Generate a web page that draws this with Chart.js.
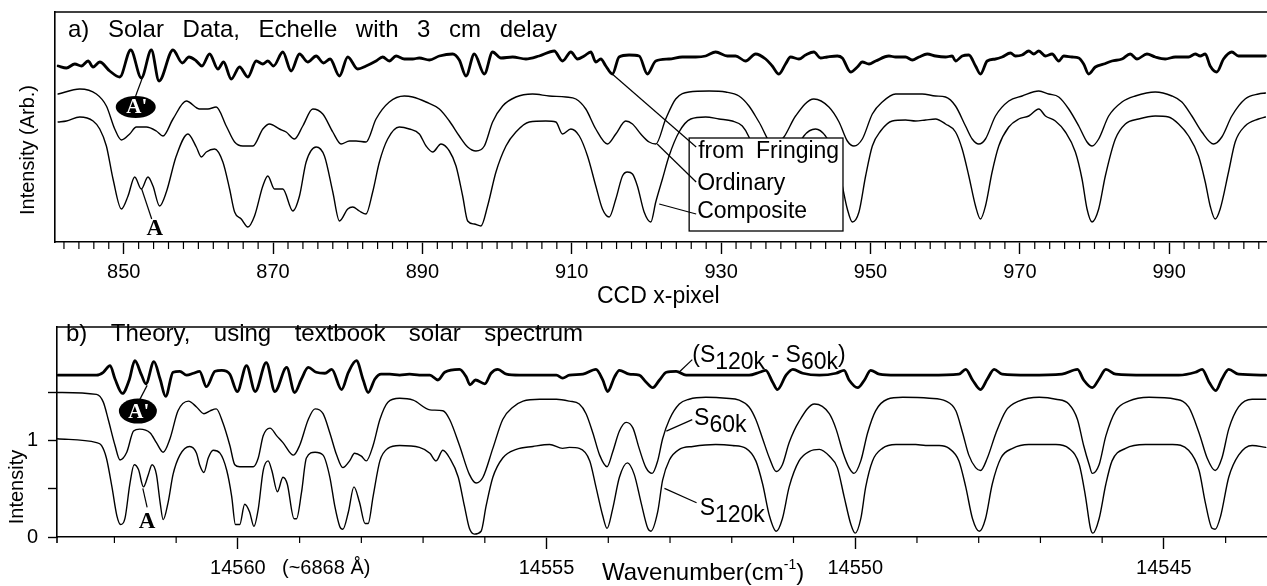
<!DOCTYPE html>
<html>
<head>
<meta charset="utf-8">
<script src="https://cdn.jsdelivr.net/npm/chart.js@4.4.0/dist/chart.umd.min.js"></script>
<style>
  body { margin: 0; background: #fff; }
  canvas { position: absolute; left: 0; }
  #chartA { top: 0; }
  #chartB { top: 305px; }
</style>
</head>
<body>
<canvas id="chartA" width="1267" height="310"></canvas>
<canvas id="chartB" width="1267" height="281"></canvas>
<script>
// ---- panel a: solar data, x = CCD pixel, y = arbitrary intensity ----
const fringingA = [[841.22,1.76],[842.33,1.74],[843.45,1.78],[844.34,1.76],[845.23,1.81],[845.90,1.75],[846.79,1.80],[848.13,1.71],[849.47,1.65],[850.94,1.92],[852.36,1.64],[853.70,1.92],[854.73,1.61],[856.60,1.92],[857.85,1.79],[858.74,1.85],[859.72,1.81],[860.48,1.76],[861.50,1.88],[862.62,1.73],[863.37,1.80],[864.40,1.63],[865.51,1.75],[866.63,1.65],[867.74,1.81],[868.63,1.78],[869.30,1.81],[870.06,1.76],[871.31,1.90],[872.42,1.71],[873.54,1.88],[874.65,1.80],[875.77,1.86],[876.75,1.79],[877.64,1.83],[878.89,1.66],[880.00,1.85],[881.34,1.73],[882.45,1.76],[883.79,1.81],[884.68,1.85],[885.57,1.81],[886.47,1.86],[887.58,1.83],[888.70,1.83],[889.59,1.84],[890.93,1.82],[892.27,1.86],[894.05,1.88],[894.94,1.82],[895.84,1.66],[896.95,1.88],[898.29,1.68],[899.40,1.90],[900.52,1.84],[902.08,1.85],[903.86,1.83],[905.64,1.86],[907.65,1.91],[908.76,1.81],[909.88,1.90],[910.77,1.83],[911.66,1.86],[912.55,1.90],[913.22,1.80],[913.89,1.83],[914.56,1.76],[915.45,1.68],[916.34,1.85],[917.68,1.87],[919.02,1.86],[920.13,1.68],[921.25,1.81],[923.03,1.83],[924.81,1.85],[926.60,1.85],[927.93,1.86],[929.27,1.90],[930.83,1.86],[931.94,1.86],[933.28,1.81],[934.62,1.88],[935.96,1.83],[936.85,1.76],[937.74,1.68],[938.63,1.78],[939.30,1.85],[940.42,1.83],[941.31,1.87],[942.42,1.90],[943.31,1.84],[944.21,1.85],[945.56,1.86],[946.23,1.84],[947.35,1.70],[948.24,1.75],[948.91,1.80],[949.80,1.78],[950.69,1.81],[952.47,1.86],[953.37,1.85],[954.70,1.85],[955.60,1.82],[956.49,1.85],[957.60,1.88],[958.72,1.86],[960.05,1.85],[960.94,1.86],[961.39,1.81],[962.28,1.86],[963.17,1.87],[964.07,1.76],[964.73,1.68],[965.63,1.81],[966.74,1.83],[967.63,1.85],[968.75,1.89],[969.41,1.86],[970.31,1.87],[971.20,1.91],[971.87,1.88],[972.54,1.91],[973.43,1.86],[974.32,1.88],[975.21,1.81],[975.88,1.86],[977.00,1.85],[977.89,1.84],[978.55,1.78],[979.22,1.68],[980.11,1.75],[981.23,1.78],[982.34,1.81],[983.68,1.83],[984.79,1.88],[985.69,1.83],[987.02,1.88],[988.14,1.85],[989.47,1.83],[990.81,1.85],[992.60,1.85],[993.49,1.88],[994.16,1.86],[994.83,1.88],[995.49,1.76],[996.38,1.70],[997.28,1.83],[998.39,1.90],[999.28,1.86],[1000.62,1.86],[1001.96,1.86],[1002.89,1.86]];

const ordinaryA = [[841.22,1.48],[844.12,1.53],[846.34,1.48],[847.68,1.36],[848.80,1.13],[849.69,1.02],[850.80,1.08],[851.69,1.15],[853.03,1.15],[854.37,1.11],[855.26,1.06],[856.60,1.23],[858.38,1.41],[860.16,1.33],[861.28,1.33],[862.39,1.35],[863.73,1.16],[864.85,1.00],[865.96,0.96],[867.30,0.96],[868.63,1.13],[869.53,1.18],[870.86,1.13],[871.75,1.10],[872.87,1.03],[873.98,1.16],[875.32,1.33],[876.66,1.28],[878.00,1.10],[879.11,0.98],[880.23,1.01],[881.12,1.01],[882.45,1.00],[883.79,1.23],[885.57,1.40],[887.58,1.46],[888.70,1.45],[890.49,1.40],[892.27,1.33],[893.61,1.21],[894.94,1.06],[896.06,0.95],[897.17,0.91],[898.29,0.96],[899.40,1.20],[900.74,1.36],[902.52,1.45],[904.75,1.48],[906.98,1.46],[909.21,1.45],[910.55,1.43],[911.88,1.33],[913.22,1.13],[914.78,0.98],[915.90,1.08],[917.23,1.21],[918.13,1.18],[919.24,1.08],[920.36,1.00],[921.25,0.98],[922.58,1.23],[923.92,1.43],[925.70,1.50],[928.38,1.51],[930.61,1.50],[932.39,1.46],[933.73,1.36],[935.07,1.20],[937.07,0.96],[938.41,1.05],[939.97,1.26],[942.42,1.43],[944.43,1.35],[945.79,1.20],[946.90,1.01],[947.79,0.96],[948.91,1.03],[950.25,1.28],[951.58,1.40],[953.37,1.48],[955.15,1.48],[956.93,1.48],[958.72,1.46],[960.05,1.45],[961.39,1.36],[962.73,1.16],[963.62,1.03],[964.51,0.98],[965.40,1.03],[966.74,1.26],[968.52,1.41],[970.31,1.46],[972.54,1.51],[973.87,1.48],[975.21,1.45],[976.55,1.33],[977.89,1.16],[979.00,1.00],[979.67,0.96],[980.56,1.03],[981.90,1.26],[983.68,1.40],[985.46,1.46],[988.14,1.50],[990.37,1.46],[991.70,1.40],[993.04,1.26],[994.38,1.10],[995.94,0.98],[997.05,1.05],[998.39,1.26],[1000.17,1.43],[1001.96,1.48],[1002.89,1.49]];

const compositeA = [[841.22,1.20],[842.33,1.21],[844.12,1.25],[845.90,1.21],[846.79,1.13],[847.68,0.96],[848.57,0.63],[849.69,0.33],[850.58,0.46],[851.47,0.65],[852.36,0.53],[853.25,0.65],[853.92,0.56],[854.81,0.36],[855.71,0.50],[857.04,0.86],[858.60,1.08],[859.72,0.95],[860.39,0.85],[861.06,0.90],[862.17,0.93],[863.28,0.80],[864.18,0.53],[864.85,0.30],[865.74,0.23],[866.63,0.15],[867.52,0.26],[868.63,0.56],[869.30,0.66],[870.19,0.53],[871.31,0.53],[872.65,0.31],[873.54,0.46],[874.43,0.80],[875.77,0.95],[876.88,0.86],[878.00,0.50],[878.89,0.21],[880.00,0.33],[880.67,0.35],[881.56,0.31],[882.45,0.28],[883.34,0.50],[884.24,0.80],[885.35,1.03],[886.91,1.15],[888.25,1.13],[889.59,1.08],[890.49,0.96],[891.38,0.90],[892.49,0.98],[893.61,0.91],[894.50,0.76],[895.39,0.46],[896.06,0.21],[896.95,0.18],[897.84,0.16],[898.73,0.36],[899.85,0.70],[901.19,0.96],[902.52,1.10],[904.31,1.20],[906.53,1.21],[907.87,1.20],[908.76,1.08],[909.88,1.13],[911.01,1.06],[912.11,0.86],[913.22,0.56],[914.11,0.33],[915.01,0.25],[915.90,0.43],[916.79,0.66],[917.46,0.70],[918.13,0.68],[918.79,0.56],[919.69,0.30],[920.58,0.20],[921.25,0.40],[922.14,0.63],[923.03,0.86],[924.37,1.10],[925.93,1.23],[927.93,1.25],[929.72,1.23],[931.50,1.21],[932.84,1.16],[933.73,1.05],[935.07,0.76],[936.40,0.30],[937.29,0.21],[938.41,0.43],[939.75,0.86],[941.08,1.06],[942.65,1.13],[943.98,1.06],[945.34,0.86],[946.23,0.56],[946.90,0.33],[947.57,0.20],[948.46,0.30],[949.35,0.66],[950.25,0.96],[951.36,1.11],[952.92,1.21],[954.70,1.22],[956.04,1.21],[957.38,1.22],[958.72,1.23],[960.05,1.18],[961.39,1.10],[962.28,0.93],[963.17,0.66],[964.07,0.36],[964.73,0.23],[965.40,0.36],[966.29,0.70],[967.18,0.96],[968.52,1.15],[969.86,1.23],[971.20,1.26],[972.54,1.33],[973.43,1.26],[974.76,1.21],[976.10,1.10],[977.44,0.90],[978.33,0.63],[979.00,0.33],[979.67,0.20],[980.56,0.33],[981.45,0.66],[982.79,1.03],[984.13,1.18],[985.91,1.23],[988.14,1.26],[989.92,1.25],[991.26,1.18],[992.60,1.06],[993.93,0.86],[994.83,0.60],[995.49,0.36],[996.16,0.23],[996.83,0.33],[997.95,0.70],[998.84,1.00],[1000.17,1.16],[1001.96,1.23],[1002.89,1.25]];

// ---- panel b: theory, x = wavenumber (cm-1), y = intensity ----
const diffB = [[14562.91,1.68],[14562.29,1.68],[14562.18,1.71],[14562.07,1.78],[14561.99,1.64],[14561.87,1.49],[14561.76,1.63],[14561.67,1.83],[14561.56,1.68],[14561.49,1.59],[14561.36,1.82],[14561.26,1.64],[14561.17,1.46],[14561.05,1.71],[14560.94,1.72],[14560.83,1.68],[14560.72,1.70],[14560.62,1.72],[14560.51,1.56],[14560.37,1.72],[14560.26,1.73],[14560.13,1.69],[14560.01,1.51],[14559.86,1.78],[14559.72,1.51],[14559.54,1.81],[14559.40,1.51],[14559.21,1.76],[14559.08,1.50],[14558.97,1.64],[14558.86,1.76],[14558.73,1.71],[14558.59,1.70],[14558.48,1.74],[14558.32,1.53],[14558.21,1.71],[14558.08,1.83],[14557.97,1.63],[14557.89,1.50],[14557.78,1.64],[14557.68,1.69],[14557.54,1.69],[14557.38,1.68],[14557.22,1.69],[14557.06,1.68],[14556.89,1.68],[14556.76,1.63],[14556.65,1.71],[14556.41,1.74],[14556.30,1.66],[14556.24,1.58],[14556.15,1.63],[14556.00,1.59],[14555.90,1.70],[14555.79,1.74],[14555.65,1.69],[14555.44,1.68],[14555.11,1.68],[14554.84,1.68],[14554.74,1.65],[14554.63,1.68],[14554.41,1.69],[14554.20,1.74],[14554.09,1.63],[14554.01,1.51],[14553.90,1.66],[14553.82,1.73],[14553.66,1.69],[14553.50,1.68],[14553.39,1.61],[14553.28,1.55],[14553.17,1.63],[14553.06,1.71],[14552.90,1.72],[14552.74,1.68],[14552.25,1.68],[14551.72,1.68],[14551.55,1.71],[14551.45,1.73],[14551.34,1.61],[14551.26,1.53],[14551.12,1.68],[14551.01,1.74],[14550.85,1.70],[14550.58,1.68],[14550.31,1.70],[14550.18,1.73],[14550.10,1.63],[14549.96,1.55],[14549.85,1.63],[14549.75,1.73],[14549.61,1.69],[14549.34,1.68],[14548.80,1.68],[14548.32,1.69],[14548.21,1.74],[14548.10,1.63],[14547.97,1.53],[14547.86,1.64],[14547.75,1.74],[14547.62,1.69],[14547.19,1.68],[14546.65,1.69],[14546.40,1.74],[14546.30,1.63],[14546.16,1.55],[14546.05,1.64],[14545.94,1.74],[14545.78,1.69],[14545.30,1.68],[14544.76,1.68],[14544.49,1.71],[14544.38,1.74],[14544.27,1.61],[14544.16,1.52],[14544.06,1.64],[14543.95,1.74],[14543.79,1.69],[14543.35,1.68]];

const s60kB = [[14562.93,1.50],[14562.29,1.48],[14562.18,1.40],[14562.10,1.22],[14561.99,0.95],[14561.91,0.80],[14561.80,0.88],[14561.69,1.10],[14561.59,1.12],[14561.42,1.08],[14561.32,0.98],[14561.21,0.88],[14561.10,1.02],[14560.97,1.31],[14560.80,1.41],[14560.67,1.35],[14560.55,1.28],[14560.45,1.31],[14560.35,1.33],[14560.24,1.18],[14560.13,0.95],[14560.05,0.75],[14559.97,0.73],[14559.75,0.73],[14559.67,0.82],[14559.59,1.05],[14559.48,1.13],[14559.37,1.05],[14559.27,0.98],[14559.10,0.85],[14559.00,0.95],[14558.86,1.22],[14558.75,1.33],[14558.62,1.28],[14558.51,1.08],[14558.40,0.85],[14558.30,0.72],[14558.19,0.79],[14558.11,0.87],[14558.00,0.84],[14557.92,0.79],[14557.81,0.95],[14557.70,1.22],[14557.57,1.40],[14557.38,1.44],[14557.16,1.42],[14556.89,1.32],[14556.68,1.31],[14556.57,1.22],[14556.41,0.95],[14556.25,0.65],[14556.14,0.56],[14556.03,0.62],[14555.87,0.92],[14555.71,1.22],[14555.54,1.35],[14555.38,1.41],[14555.11,1.43],[14554.84,1.43],[14554.63,1.41],[14554.47,1.38],[14554.36,1.28],[14554.25,1.08],[14554.14,0.85],[14554.02,0.73],[14553.93,0.88],[14553.82,1.10],[14553.71,1.19],[14553.60,1.13],[14553.50,0.92],[14553.39,0.72],[14553.29,0.66],[14553.20,0.79],[14553.12,1.02],[14553.01,1.22],[14552.85,1.38],[14552.69,1.43],[14552.42,1.45],[14552.09,1.44],[14551.88,1.42],[14551.72,1.35],[14551.61,1.22],[14551.50,1.02],[14551.39,0.82],[14551.28,0.68],[14551.18,0.75],[14551.07,0.98],[14550.91,1.20],[14550.66,1.38],[14550.42,1.28],[14550.31,1.12],[14550.20,0.88],[14550.10,0.72],[14550.02,0.66],[14549.91,0.79],[14549.80,1.08],[14549.67,1.31],[14549.48,1.43],[14549.23,1.45],[14548.80,1.44],[14548.53,1.41],[14548.37,1.31],[14548.26,1.08],[14548.16,0.85],[14548.05,0.72],[14547.97,0.69],[14547.86,0.82],[14547.72,1.08],[14547.56,1.31],[14547.35,1.41],[14547.02,1.45],[14546.75,1.43],[14546.54,1.38],[14546.40,1.22],[14546.30,0.95],[14546.21,0.75],[14546.16,0.66],[14546.05,0.75],[14545.94,1.05],[14545.78,1.31],[14545.57,1.41],[14545.24,1.45],[14544.81,1.43],[14544.60,1.35],[14544.43,1.08],[14544.30,0.82],[14544.17,0.69],[14544.06,0.82],[14543.95,1.12],[14543.79,1.35],[14543.57,1.43],[14543.35,1.43]];

const s120kB = [[14562.93,1.02],[14562.29,0.98],[14562.21,0.95],[14562.13,0.82],[14562.04,0.52],[14561.96,0.22],[14561.90,0.13],[14561.83,0.19],[14561.75,0.55],[14561.68,0.75],[14561.61,0.70],[14561.53,0.52],[14561.45,0.65],[14561.39,0.75],[14561.32,0.65],[14561.26,0.36],[14561.21,0.18],[14561.13,0.36],[14561.05,0.65],[14560.94,0.85],[14560.78,0.94],[14560.67,0.87],[14560.62,0.75],[14560.55,0.67],[14560.48,0.82],[14560.40,0.90],[14560.29,0.87],[14560.18,0.69],[14560.10,0.42],[14560.04,0.13],[14559.97,0.13],[14559.89,0.34],[14559.81,0.26],[14559.74,0.11],[14559.67,0.29],[14559.59,0.69],[14559.51,0.79],[14559.45,0.69],[14559.36,0.47],[14559.27,0.62],[14559.20,0.55],[14559.09,0.19],[14559.05,0.19],[14558.97,0.46],[14558.89,0.82],[14558.75,0.88],[14558.62,0.85],[14558.51,0.62],[14558.43,0.32],[14558.35,0.11],[14558.30,0.08],[14558.21,0.26],[14558.12,0.52],[14558.03,0.36],[14557.94,0.14],[14557.89,0.14],[14557.81,0.42],[14557.70,0.79],[14557.57,0.92],[14557.38,0.95],[14557.06,0.93],[14556.89,0.87],[14556.79,0.79],[14556.68,0.90],[14556.57,0.82],[14556.43,0.62],[14556.33,0.32],[14556.25,0.09],[14556.17,0.03],[14556.06,0.06],[14555.98,0.32],[14555.87,0.62],[14555.71,0.82],[14555.49,0.91],[14555.22,0.94],[14554.95,0.96],[14554.74,0.92],[14554.63,0.93],[14554.47,0.92],[14554.30,0.79],[14554.20,0.52],[14554.09,0.22],[14554.02,0.09],[14553.93,0.29],[14553.82,0.62],[14553.69,0.77],[14553.58,0.65],[14553.47,0.36],[14553.36,0.09],[14553.31,0.06],[14553.20,0.26],[14553.12,0.59],[14553.01,0.80],[14552.85,0.91],[14552.63,0.94],[14552.26,0.96],[14551.99,0.95],[14551.77,0.92],[14551.61,0.79],[14551.50,0.55],[14551.39,0.22],[14551.28,0.06],[14551.18,0.19],[14551.07,0.52],[14550.91,0.79],[14550.74,0.89],[14550.58,0.91],[14550.42,0.84],[14550.29,0.72],[14550.18,0.42],[14550.07,0.13],[14550.00,0.04],[14549.91,0.19],[14549.83,0.52],[14549.72,0.79],[14549.56,0.92],[14549.34,0.96],[14549.02,0.96],[14548.86,0.95],[14548.64,0.95],[14548.48,0.92],[14548.32,0.79],[14548.21,0.52],[14548.10,0.19],[14547.99,0.06],[14547.89,0.19],[14547.78,0.55],[14547.64,0.82],[14547.45,0.92],[14547.19,0.96],[14546.75,0.96],[14546.54,0.92],[14546.37,0.75],[14546.27,0.42],[14546.19,0.09],[14546.15,0.04],[14546.05,0.19],[14545.94,0.55],[14545.84,0.79],[14545.62,0.92],[14545.30,0.96],[14544.86,0.96],[14544.60,0.90],[14544.43,0.69],[14544.33,0.36],[14544.22,0.09],[14544.17,0.08],[14544.08,0.22],[14543.95,0.62],[14543.79,0.85],[14543.57,0.95],[14543.35,0.93]];

// tick labels
const ccdTickLabels = [850, 870, 890, 910, 930, 950, 970, 990];
const wnTickLabels = [14560, 14555, 14550, 14545];
const intensityTicks = [0, 0.5, 1, 1.5];
const intensityLabels = ['0', '', '1', ''];

const FONT = '"Liberation Sans", Arial, Helvetica, sans-serif';
const SERIF = '"Liberation Serif", "Times New Roman", serif';

const toXY = arr => arr.map(([x, y]) => ({ x, y }));

function drawText(ctx, str, x, y, size, o = {}) {
  ctx.save();
  ctx.font = (o.bold ? 'bold ' : '') + size + 'px ' + (o.family || FONT);
  ctx.fillStyle = o.color || '#000';
  ctx.textBaseline = 'middle';
  ctx.textAlign = o.align || 'left';
  ctx.translate(x, y);
  if (o.rotate) ctx.rotate(o.rotate);
  ctx.scale(o.sx || 1, 1);
  ctx.fillText(str, 0, 0);
  const w = ctx.measureText(str).width * (o.sx || 1);
  ctx.restore();
  return w;
}

// spread words evenly between x0 and x1 (wide word spacing of the original)
function drawSpread(ctx, words, x0, x1, y, size) {
  ctx.save();
  ctx.font = size + 'px ' + FONT;
  const widths = words.map(w => ctx.measureText(w).width);
  ctx.restore();
  const total = widths.reduce((a, b) => a + b, 0);
  const gap = (x1 - x0 - total) / (words.length - 1);
  let x = x0;
  words.forEach((w, i) => { drawText(ctx, w, x, y, size); x += widths[i] + gap; });
}

// text runs with sub/superscripts: [text, dy, size]
function drawRuns(ctx, runs, x, y, size) {
  runs.forEach(([t, dy, s]) => { x += drawText(ctx, t, x, y + (dy || 0), s || size); });
}

function seg(ctx, x1, y1, x2, y2, w) {
  ctx.save();
  ctx.strokeStyle = '#000';
  ctx.lineWidth = w || 1.2;
  ctx.beginPath();
  ctx.moveTo(x1, y1);
  ctx.lineTo(x2, y2);
  ctx.stroke();
  ctx.restore();
}

function badge(ctx, cx, cy, rx, ry) {
  ctx.save();
  ctx.fillStyle = '#000';
  ctx.beginPath();
  ctx.ellipse(cx, cy, rx, ry, 0, 0, Math.PI * 2);
  ctx.fill();
  ctx.restore();
  drawText(ctx, "A'", cx + 1, cy + 1, 21, { family: SERIF, bold: true, color: '#fff', align: 'center' });
}

const decorA = {
  id: 'decorA',
  afterDatasetsDraw(chart) {
    const { ctx, chartArea: a, scales: { x, y } } = chart;
    const px = v => x.getPixelForValue(v), py = v => y.getPixelForValue(v);
    // frame top
    seg(ctx, a.left, a.top, a.right, a.top, 1.6);
    // minor ticks every 2 px
    for (let v = 842; v <= 1002; v += 2) {
      if (!ccdTickLabels.includes(v)) seg(ctx, px(v), a.bottom, px(v), a.bottom + 7, 1.2);
    }
    drawSpread(ctx, ['a)', 'Solar', 'Data,', 'Echelle', 'with', '3', 'cm', 'delay'], 68, 557, 30, 24);
    drawText(ctx, 'Intensity (Arb.)', 28, 150, 20, { rotate: -Math.PI / 2, align: 'center' });
    drawText(ctx, 'CCD x-pixel', 597, 297, 23);

    // legend box (opaque)
    const bx0 = px(925.72), bx1 = px(946.32), by0 = py(1.04), by1 = py(0.11);
    ctx.save();
    ctx.fillStyle = '#fff';
    ctx.fillRect(bx0, by0, bx1 - bx0, by1 - by0);
    ctx.strokeStyle = '#000';
    ctx.lineWidth = 1.3;
    ctx.strokeRect(bx0, by0, bx1 - bx0, by1 - by0);
    ctx.restore();
    drawSpread(ctx, ['from', 'Fringing'], bx0 + 9, bx0 + 150, py(0.90), 23);
    drawText(ctx, 'Ordinary', bx0 + 8, py(0.58), 23);
    drawText(ctx, 'Composite', bx0 + 8, py(0.30), 23);
    seg(ctx, px(915.42), py(1.68), px(926.66), py(0.95));
    seg(ctx, px(921.44), py(0.98), px(926.66), py(0.60));
    seg(ctx, px(921.71), py(0.38), px(926.66), py(0.28));

    // A' and A markers
    seg(ctx, px(851.6), py(1.46), px(852.54), py(1.65));
    badge(ctx, px(851.61), py(1.35), 20, 11);
    seg(ctx, px(852.41), py(0.53), px(853.75), py(0.23));
    drawText(ctx, 'A', px(854.15), py(0.13), 23, { family: SERIF, bold: true, align: 'center' });
  }
};

const decorB = {
  id: 'decorB',
  afterDatasetsDraw(chart) {
    const { ctx, chartArea: a, scales: { x, y } } = chart;
    const px = v => x.getPixelForValue(v), py = v => y.getPixelForValue(v);
    seg(ctx, a.left, a.top, a.right, a.top, 1.6);
    seg(ctx, a.left, a.bottom, a.left, a.bottom + 6, 1.6);
    for (let v = 14544; v <= 14562; v += 1) {
      if (!wnTickLabels.includes(v)) seg(ctx, px(v), a.bottom, px(v), a.bottom + 6, 1.2);
    }
    drawSpread(ctx, ['b)', 'Theory,', 'using', 'textbook', 'solar', 'spectrum'], 66, 583, 29, 24);
    drawText(ctx, 'Intensity', 17, 182, 20, { rotate: -Math.PI / 2, align: 'center' });
    drawText(ctx, '(~6868 \u00c5)', 282, 263, 20);
    drawRuns(ctx, [['Wavenumber(cm', 0], ['-1', -8, 14], [')', 0]], 602, 268, 24);

    // curve labels
    drawRuns(ctx, [['(', 0], ['S', 0], ['120k', 7], [' - ', 0], ['S', 0], ['60k', 7], [')', 0]], px(14552.64), py(1.88), 23);
    drawRuns(ctx, [['S', 0], ['60k', 7]], px(14552.61), py(1.228), 23);
    drawRuns(ctx, [['S', 0], ['120k', 7]], px(14552.52), py(0.297), 23);
    seg(ctx, px(14552.85), py(1.713), px(14552.64), py(1.842));
    seg(ctx, px(14553.06), py(1.099), px(14552.64), py(1.218));
    seg(ctx, px(14553.09), py(0.505), px(14552.57), py(0.356));

    seg(ctx, px(14561.59), py(1.426), px(14561.47), py(1.574));
    badge(ctx, px(14561.62), py(1.307), 19, 12.5);
    seg(ctx, px(14561.54), py(0.505), px(14561.47), py(0.307));
    drawText(ctx, 'A', px(14561.47), py(0.158), 23, { family: SERIF, bold: true, align: 'center' });
  }
};

const lineDefaults = {
  point: { radius: 0 },
  line: { borderColor: '#000', cubicInterpolationMode: 'monotone', borderJoinStyle: 'round', borderCapStyle: 'round', fill: false }
};

const plainNumber = v => String(v);

const chartA = new Chart(document.getElementById('chartA'), {
  type: 'line',
  data: {
    datasets: [
      { label: 'from Fringing', data: toXY(fringingA), borderWidth: 2.8 },
      { label: 'Ordinary', data: toXY(ordinaryA), borderWidth: 1.4 },
      { label: 'Composite', data: toXY(compositeA), borderWidth: 1.4 }
    ]
  },
  options: {
    responsive: false,
    animation: false,
    devicePixelRatio: 1,
    layout: { padding: { top: 12, left: 0, right: 0, bottom: 0 } },
    elements: lineDefaults,
    plugins: { legend: { display: false }, tooltip: { enabled: false } },
    scales: {
      x: {
        type: 'linear',
        min: 840.8,
        max: 1003.1,
        afterBuildTicks: s => { s.ticks = ccdTickLabels.map(v => ({ value: v })); },
        afterFit: s => { s.height = 68; },
        grid: { drawOnChartArea: false, tickLength: 12, tickColor: '#000', tickWidth: 1.4 },
        border: { color: '#000', width: 1.6 },
        ticks: { color: '#000', font: { size: 20, family: FONT }, padding: 6, maxRotation: 0, autoSkip: false, callback: plainNumber }
      },
      y: {
        min: 0,
        max: 2.30,
        afterFit: s => { s.width = 55; },
        grid: { drawOnChartArea: false, drawTicks: false },
        border: { color: '#000', width: 1.6 },
        ticks: { display: false }
      }
    }
  },
  plugins: [decorA]
});

const chartB = new Chart(document.getElementById('chartB'), {
  type: 'line',
  data: {
    datasets: [
      { label: '(S120k - S60k)', data: toXY(diffB), borderWidth: 2.8 },
      { label: 'S60k', data: toXY(s60kB), borderWidth: 1.4 },
      { label: 'S120k', data: toXY(s120kB), borderWidth: 1.4 }
    ]
  },
  options: {
    responsive: false,
    animation: false,
    devicePixelRatio: 1,
    layout: { padding: { top: 12, left: 0, right: 0, bottom: 0 } },
    elements: lineDefaults,
    plugins: { legend: { display: false }, tooltip: { enabled: false } },
    scales: {
      x: {
        type: 'linear',
        reverse: true,
        min: 14543.33,
        max: 14562.93,
        afterBuildTicks: s => { s.ticks = wnTickLabels.map(v => ({ value: v })); },
        afterFit: s => { s.height = 49; },
        grid: { drawOnChartArea: false, tickLength: 12, tickColor: '#000', tickWidth: 1.4 },
        border: { color: '#000', width: 1.6 },
        ticks: { color: '#000', font: { size: 20, family: FONT }, padding: 7, maxRotation: 0, autoSkip: false, callback: plainNumber }
      },
      y: {
        min: 0,
        max: 2.18,
        afterFit: s => { s.width = 57; },
        afterBuildTicks: s => { s.ticks = intensityTicks.map(v => ({ value: v })); },
        grid: { drawOnChartArea: false, tickLength: 9, tickColor: '#000', tickWidth: 1.4 },
        border: { color: '#000', width: 1.6 },
        ticks: {
          color: '#000', font: { size: 20, family: FONT }, padding: 10,
          callback: v => intensityLabels[intensityTicks.indexOf(v)]
        }
      }
    }
  },
  plugins: [decorB]
});
</script>
</body>
</html>
